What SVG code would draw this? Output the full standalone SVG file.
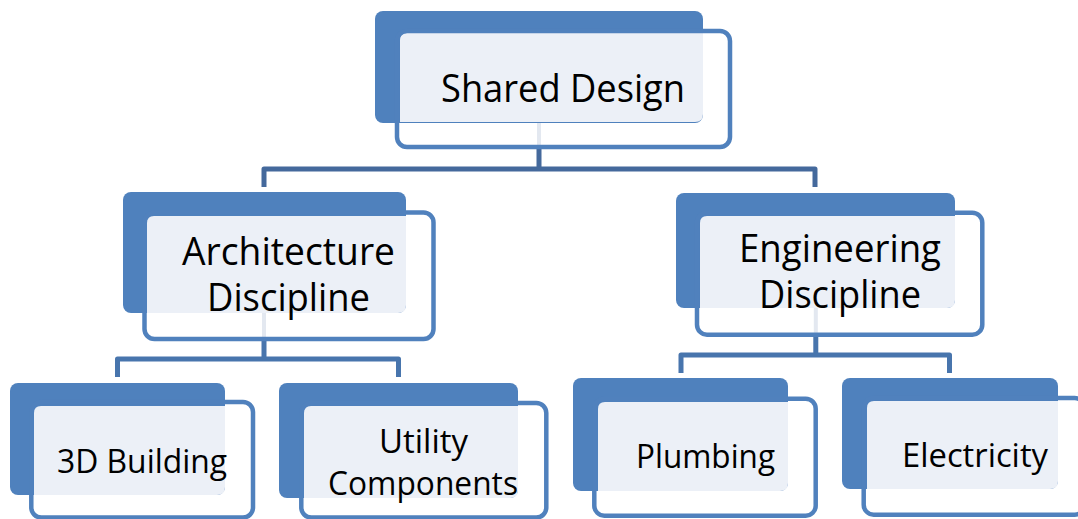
<svg xmlns="http://www.w3.org/2000/svg" width="1078" height="519" viewBox="0 0 1078 519">
<style>
.back{fill:#4F81BD}
.light{fill:#ECF0F7}
.front{fill:none;stroke:#5081BD;stroke-width:4.5}
.conn{fill:none;stroke:#44699C;stroke-width:5;stroke-linejoin:round}
.conn2{fill:none;stroke:#4875AD;stroke-width:5;stroke-linejoin:round}
.faint{fill:none;stroke:#E3E8F0;stroke-width:4}
.t1{font-family:"Open Sans","Noto Sans","Liberation Sans",sans-serif;font-size:38px;fill:#000}
.t2{font-family:"Open Sans","Noto Sans","Liberation Sans",sans-serif;font-size:33px;fill:#000}
</style>
<rect width="1078" height="519" fill="#fff"/>
<g id="connectors">
<path class="conn" d="M264,187 V169 H815 V187 M539,149 V169"/>
<path class="conn2" d="M117.5,377 V359 H398.5 V377 M264,341 V359"/>
<path class="conn2" d="M681,373 V355 H949.5 V373 M815.8,337 V355"/>
<path class="faint" d="M539,123 V147 M264,313 V339 M815.8,308 V335"/>
</g>
<g id="shared-design">
<rect class="back" x="375" y="11" width="328" height="112" rx="8"/>
<path class="light" d="M407,33 H703 V114 Q703,122 695,122 H400 V40 Q400,33 407,33 Z"/>
<rect class="front" x="397" y="31" width="333" height="116" rx="10"/>
<text class="t1" x="441" y="102" textLength="244" lengthAdjust="spacingAndGlyphs">Shared Design</text>
</g>
<g id="architecture">
<rect class="back" x="123" y="192" width="283" height="121" rx="8"/>
<path class="light" d="M154,216 H406 V305 Q406,313 398,313 H147 V223 Q147,216 154,216 Z"/>
<rect class="front" x="144.5" y="212.5" width="289" height="126.5" rx="10"/>
<text class="t1" x="182" y="265" textLength="213" lengthAdjust="spacingAndGlyphs">Architecture</text>
<text class="t1" x="207" y="311" textLength="163" lengthAdjust="spacingAndGlyphs">Discipline</text>
</g>
<g id="engineering">
<rect class="back" x="676" y="193" width="279" height="115" rx="8"/>
<path class="light" d="M707,216 H955 V300 Q955,308 947,308 H700 V223 Q700,216 707,216 Z"/>
<rect class="front" x="697" y="212.7" width="285.3" height="122" rx="10"/>
<text class="t1" x="739" y="262" textLength="202" lengthAdjust="spacingAndGlyphs">Engineering</text>
<text class="t1" x="759" y="308" textLength="162" lengthAdjust="spacingAndGlyphs">Discipline</text>
</g>
<g id="building-3d">
<rect class="back" x="10" y="383" width="215" height="112" rx="8"/>
<path class="light" d="M41,406 H225 V487 Q225,495 217,495 H34 V413 Q34,406 41,406 Z"/>
<rect class="front" x="31.3" y="402" width="221.7" height="115.5" rx="10"/>
<text class="t2" x="57" y="473" textLength="170" lengthAdjust="spacingAndGlyphs">3D Building</text>
</g>
<g id="utility-components">
<rect class="back" x="279" y="383" width="239" height="115" rx="8"/>
<path class="light" d="M311,406 H518 V490 Q518,498 510,498 H304 V413 Q304,406 311,406 Z"/>
<rect class="front" x="301.3" y="403" width="245" height="114.5" rx="10"/>
<text class="t2" x="379" y="453" textLength="89" lengthAdjust="spacingAndGlyphs">Utility</text>
<text class="t2" x="328" y="495" textLength="190" lengthAdjust="spacingAndGlyphs">Components</text>
</g>
<g id="plumbing">
<rect class="back" x="573" y="378" width="215" height="113" rx="8"/>
<path class="light" d="M605,402 H788 V483 Q788,491 780,491 H598 V409 Q598,402 605,402 Z"/>
<rect class="front" x="594.3" y="398.7" width="221.4" height="117" rx="10"/>
<text class="t2" x="636" y="468" textLength="139" lengthAdjust="spacingAndGlyphs">Plumbing</text>
</g>
<g id="electricity">
<rect class="back" x="842" y="378" width="216" height="111" rx="8"/>
<path class="light" d="M874,401 H1058 V481 Q1058,489 1050,489 H867 V408 Q867,401 874,401 Z"/>
<rect class="front" x="863.7" y="398" width="221" height="116.7" rx="10"/>
<text class="t2" x="902" y="467" textLength="146" lengthAdjust="spacingAndGlyphs">Electricity</text>
</g>
</svg>
